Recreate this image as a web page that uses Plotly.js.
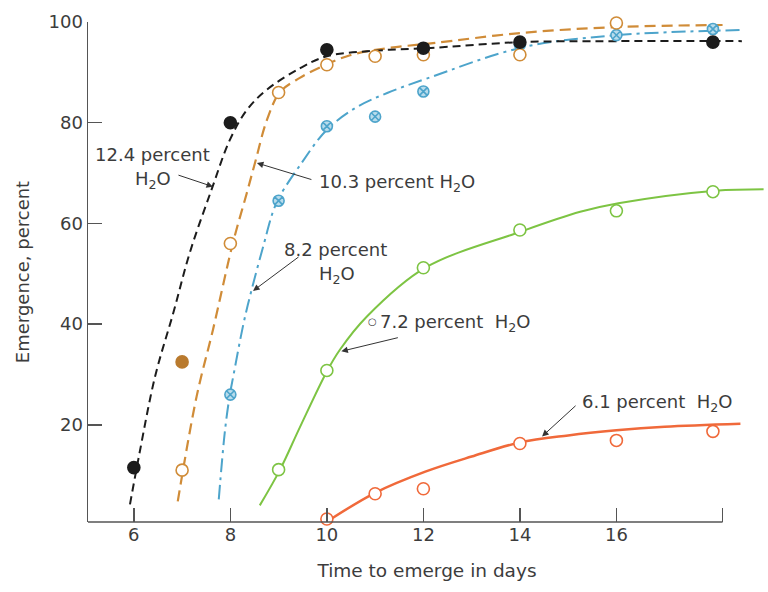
<!DOCTYPE html>
<html>
<head>
<meta charset="utf-8">
<script src="https://cdn.plot.ly/plotly-3.0.1.min.js"></script>
<style>html,body{margin:0;padding:0;background:#fff;}#chart{width:768px;height:592px;}</style>
</head>
<body>
<div id="chart"></div>
<script>
// ---- observed points ----
const black_x = [6, 8, 10, 12, 14, 18];
const black_y = [11.5, 80, 94.5, 94.8, 96, 96];
const orange_x = [7, 8, 9, 10, 11, 12, 14, 16, 18];
const orange_y = [11, 56, 86, 91.5, 93.2, 93.5, 93.5, 99.8, 100.6];
const orangeFilled_x = [7];
const orangeFilled_y = [32.5];
const blue_x = [8, 9, 10, 11, 12, 14, 16, 18];
const blue_y = [26, 64.5, 79.3, 81.2, 86.2, 95.5, 97.4, 98.6];
const green_x = [9, 10, 12, 14, 16, 18];
const green_y = [11.1, 30.8, 51.2, 58.7, 62.5, 66.3];
const red_x = [10, 11, 12, 14, 16, 18];
const red_y = [1.3, 6.3, 7.3, 16.3, 16.9, 18.7];

// ---- fitted curves ----
const blackCurve_x = [5.92, 6.12, 6.44, 6.82, 7.16, 7.61, 7.99, 8.34, 8.75, 9.44, 10, 11, 12.08, 14, 16, 18.6];
const blackCurve_y = [4.2, 14.5, 29.6, 42.3, 54.2, 66.7, 76.6, 82.5, 86.5, 90.8, 93.2, 94.3, 94.8, 96, 96.2, 96.2];
const orangeCurve_x = [6.91, 7.3, 7.64, 8.05, 8.34, 8.51, 8.76, 9.03, 9.44, 9.86, 10.48, 11.25, 12.2, 14, 16, 18.2];
const orangeCurve_y = [4.8, 25.6, 38.9, 56, 66, 72, 80.6, 86.1, 88.9, 91, 93.4, 94.8, 95.8, 97.8, 99, 99.4];
const blueCurve_x = [7.76, 7.89, 7.99, 8.06, 8.27, 8.44, 8.68, 8.89, 9.03, 9.44, 10.0, 10.62, 11.25, 12.08, 14.07, 16.04, 18.6];
const blueCurve_y = [5.2, 19, 26, 29.6, 40, 46.8, 55.4, 62.5, 65.5, 71.5, 78.6, 83.1, 85.9, 88.8, 95, 97.4, 98.4];
const greenCurve_x = [8.61, 9.03, 9.44, 10.0, 10.27, 10.83, 12.04, 14.0, 15.25, 16.04, 18.05, 19.05];
const greenCurve_y = [4, 11.1, 19.5, 30.6, 34.9, 41.5, 51.2, 58.3, 62.3, 64, 66.5, 66.8];
const redCurve_x = [10.07, 11.0, 12.04, 13.0, 14.0, 15.0, 16.0, 17.0, 18.57];
const redCurve_y = [1.2, 6.5, 10.7, 13.7, 16.5, 17.9, 18.9, 19.6, 20.2];

const xTicks = [6, 8, 10, 12, 14, 16, 18.2];
const xTickText = ['6', '8', '10', '12', '14', '16', ''];
const yTicks = [20, 40, 60, 80, 100];
const yTickText = ['20', '40', '60', '80', '100'];

const C = {
  black: '#1c1c1c', orange: '#d08c38', orangeFill: '#b97a2e',
  blue: '#4da4cb', blueFill: '#b9dcec', green: '#7dc443', red: '#f0693a',
  axis: '#555555', text: '#3c3c3c'
};
const FONT = 'DejaVu Sans, Arial, sans-serif';

function curve(x, y, color, dash, w) {
  return {x: x, y: y, type: 'scatter', mode: 'lines', hoverinfo: 'skip',
    line: {color: color, width: w || 2, dash: dash, shape: 'spline', smoothing: 1}};
}
function pts(x, y, symbol, color, fill, size) {
  return {x: x, y: y, type: 'scatter', mode: 'markers', cliponaxis: false,
    marker: {symbol: symbol, size: size || 12, color: fill, line: {color: color, width: 1.6}}};
}

const data = [
  curve(greenCurve_x, greenCurve_y, C.green, 'solid', 2),
  curve(redCurve_x, redCurve_y, C.red, 'solid', 2.5),
  curve(blueCurve_x, blueCurve_y, C.blue, '14px,5px,3px,5px', 2),
  curve(orangeCurve_x, orangeCurve_y, C.orange, '11px,6px', 2.2),
  curve(blackCurve_x, blackCurve_y, C.black, '8px,5px', 2),
  pts(green_x, green_y, 'circle', C.green, '#ffffff', 12),
  pts(red_x, red_y, 'circle', C.red, '#ffffff', 12),
  pts(blue_x, blue_y, 'circle-x', C.blue, C.blueFill, 11),
  pts(orange_x, orange_y, 'circle', C.orange, '#ffffff', 12),
  pts(orangeFilled_x, orangeFilled_y, 'circle', C.orangeFill, C.orangeFill, 12),
  pts(black_x, black_y, 'circle', C.black, C.black, 12)
];

const tf = {family: FONT, size: 18, color: C.text};
function label(x, y, text) {
  return {x: x, y: y, xref: 'x', yref: 'y', text: text, showarrow: false,
    xanchor: 'left', yanchor: 'middle', font: tf};
}
function arrow(x, y, ax, ay) {
  return {x: x, y: y, xref: 'x', yref: 'y', ax: ax, ay: ay, text: '',
    showarrow: true, arrowhead: 2, arrowsize: 1.3, arrowwidth: 1, arrowcolor: '#333'};
}

const layout = {
  width: 768, height: 592,
  margin: {l: 88, r: 2, t: 22, b: 70},
  paper_bgcolor: '#ffffff', plot_bgcolor: '#ffffff',
  showlegend: false,
  font: {family: FONT, size: 18, color: C.text},
  xaxis: {
    range: [5.05, 19.1], showgrid: false, zeroline: false, showline: false,
    tickmode: 'array', tickvals: xTicks, ticktext: xTickText,
    ticks: 'inside', ticklen: 14, tickwidth: 1.5, tickcolor: C.axis,
    tickfont: {family: FONT, size: 18, color: C.text},
    title: {text: 'Time to emerge in days', font: {family: FONT, size: 18.5, color: C.text}, standoff: 20}
  },
  yaxis: {
    range: [0.7, 100], showgrid: false, zeroline: false,
    showline: true, linecolor: C.axis, linewidth: 1.5,
    tickmode: 'array', tickvals: yTicks, ticktext: yTickText,
    ticks: 'inside', ticklen: 14, tickwidth: 1.5, tickcolor: C.axis,
    tickfont: {family: FONT, size: 18, color: C.text},
    title: {text: 'Emergence, percent', font: {family: FONT, size: 18, color: C.text}, standoff: 14}
  },
  shapes: [
    {type: 'line', xref: 'x', yref: 'paper', x0: 5.05, x1: 18.2, y0: 0, y1: 0,
     line: {color: C.axis, width: 1.5}}
  ],
  annotations: [
    label(5.15, 73.6, '12.4 percent'),
    label(5.98, 68.7, 'H<sub>2</sub>O'),
    arrow(7.64, 67.3, -36, -12),
    label(9.8, 68.0, '10.3 percent H<sub>2</sub>O'),
    arrow(8.55, 72.0, 56, 17),
    label(9.07, 54.8, '8.2 percent'),
    label(9.8, 49.8, 'H<sub>2</sub>O'),
    arrow(8.47, 46.6, 47, -35),
    {x: 10.95, y: 40.5, xref: 'x', yref: 'y', text: '○', showarrow: false,
     xanchor: 'center', yanchor: 'middle', font: {family: FONT, size: 10, color: C.text}},
    label(11.05, 40.3, '7.2 percent  H<sub>2</sub>O'),
    arrow(10.3, 34.6, 58, -14),
    label(15.25, 24.4, '6.1 percent  H<sub>2</sub>O'),
    arrow(14.46, 17.7, 35, -32)
  ]
};

Plotly.newPlot('chart', data, layout, {displayModeBar: false, staticPlot: true});
</script>
</body>
</html>
